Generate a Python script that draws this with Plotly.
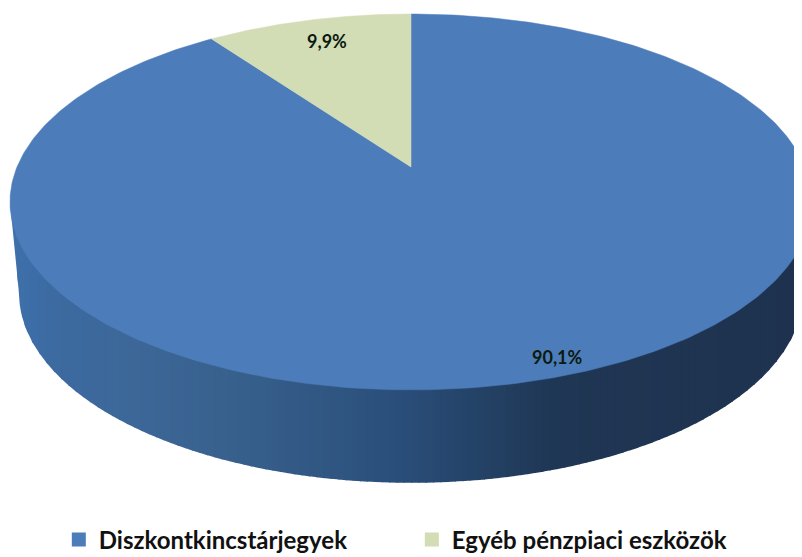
import numpy as np
import plotly.graph_objects as go

categories = ["Diszkontkincstárjegyek", "Egyéb pénzpiaci eszközök"]
values = [90.1, 9.9]
value_labels = ["90,1%", "9,9%"]
colors = ["#4C7DBA", "#D2DCB5"]

# perspective projection of the unit disc onto the page (pixel-sized axes)
CX, CY, AX, BY, K = 411.0, 167.0, 394.0, 150.4, 0.186
DEPTH, BOTTOM_SX, BOTTOM_SY = 91.0, 0.9776, 1.01
LABEL_POS = {"90,1%": (557, 357), "9,9%": (327, 41)}
PAGE_MARGIN = 8  # the page body offsets the plot by this much


def project(theta, r=1.0):
    s, c = r * np.sin(theta), r * np.cos(theta)
    d = 1 + K * c
    return CX + AX * s / d, (CY - BY * c) / d


def wall_color(x):
    stops_x = [10, 60, 150, 260, 400, 480, 560, 810]
    r = np.interp(x, stops_x, [62, 60, 60, 54, 42, 36, 31, 30])
    g = np.interp(x, stops_x, [112, 106, 102, 94, 78, 66, 54, 50])
    b = np.interp(x, stops_x, [172, 160, 150, 138, 122, 102, 84, 78])
    return f"rgb({r:.0f},{g:.0f},{b:.0f})"


fig = go.Figure()

# side wall: vertical strips between front rim of top face and lower rim
t = np.linspace(0, 2 * np.pi, 1441)
tx, ty = project(t)
left, right = np.argmin(tx), np.argmax(tx)
front = ty >= np.interp(tx, [tx[left], tx[right]], [ty[left], ty[right]]) - 1e-9
fx, fy = tx[front], ty[front]
o = np.argsort(fx)
fx, fy = fx[o], fy[o]
mid_y = (ty.min() + ty.max()) / 2
bx = CX + (fx - CX) * BOTTOM_SX
by = mid_y + DEPTH + (fy - mid_y) * BOTTOM_SY
bx = np.r_[fx[0], bx, fx[-1]]
by = np.r_[fy[0], by, fy[-1]]
edges = np.linspace(fx.min(), fx.max(), 111)
for a, b in zip(edges[:-1], edges[1:]):
    xs = np.linspace(a, b + 1.2, 8)
    top = np.interp(xs, fx, fy)
    low = np.interp(xs, bx, by)
    col = wall_color((a + b) / 2)
    fig.add_trace(go.Scatter(
        x=np.r_[xs, xs[::-1]], y=np.r_[top - 3, low[::-1]], mode="lines",
        fill="toself", fillcolor=col, line=dict(color=col, width=0),
        hoverinfo="skip", showlegend=False))

# top face: one slice per value, clockwise from 12 o'clock
cum = np.r_[0, np.cumsum(values)] / np.sum(values) * 2 * np.pi
for i, (cat, col) in enumerate(zip(categories, colors)):
    th = np.linspace(cum[i], cum[i + 1], 400)
    x, y = project(th)
    cx0, cy0 = project(np.array([0.0]), 0.0)
    fig.add_trace(go.Scatter(
        x=np.r_[cx0, x, cx0], y=np.r_[cy0, y, cy0], mode="lines", fill="toself",
        fillcolor=col, line=dict(color=col, width=0.5), name=cat,
        hoverinfo="name", showlegend=False))
    fig.add_trace(go.Scatter(
        x=[None], y=[None], mode="markers", name=cat,
        marker=dict(symbol="square", size=14, color=col)))

for lab in value_labels:
    px, py = LABEL_POS[lab]
    fig.add_annotation(x=px, y=py, text=f"<b>{lab}</b>", showarrow=False,
                       font=dict(family="Lato", size=18, color="#0B1A10"))

fig.update_layout(
    width=802 - PAGE_MARGIN, height=557 - PAGE_MARGIN,
    margin=dict(l=0, r=0, t=0, b=0, autoexpand=False),
    paper_bgcolor="white", plot_bgcolor="white",
    xaxis=dict(range=[PAGE_MARGIN, 802], visible=False, fixedrange=True),
    yaxis=dict(range=[557, PAGE_MARGIN], visible=False, fixedrange=True),
    legend=dict(orientation="h", x=0.064, y=-0.010, xanchor="left", yanchor="bottom",
                entrywidth=308, entrywidthmode="pixels", itemclick=False,
                font=dict(family="Lato", size=24, color="#111111", weight="bold"),
                bgcolor="rgba(0,0,0,0)"),
)
fig.write_html("out.html")
